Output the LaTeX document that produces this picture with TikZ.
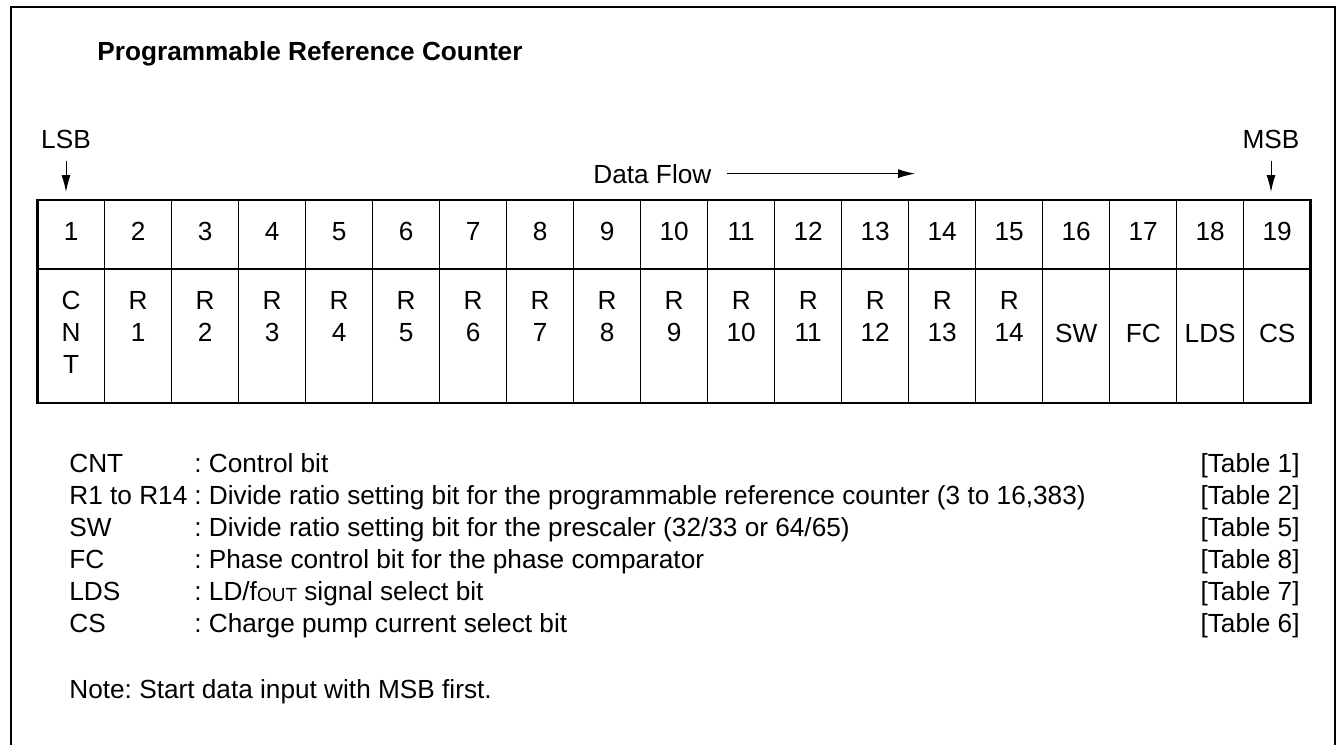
\documentclass[tikz,border=0pt]{standalone}
\usepackage{fontspec}
\setmainfont{Liberation Sans}
\usetikzlibrary{arrows.meta}
\frenchspacing

\tikzset{
  txt/.style={inner sep=0pt, anchor=base, font=\fontsize{13.1}{16}\selectfont},
  flow/.style={-{Latex[length=8.5pt,width=4.5pt]}, line width=0.5pt},
  thick box/.style={line width=1.35pt},
}

\begin{document}
\begin{tikzpicture}[x=0.5pt, y=-0.5pt]
	\useasboundingbox (0,0) rectangle (1338,744);
	\clip (0,0) rectangle (1338,744);
	% frame
	\draw [line width=1.1pt] (11,770) -- (11,7) -- (1335,7) -- (1335,770);
	\node [txt, anchor=base west, font=\fontsize{13.1}{16}\selectfont\bfseries] (title) at (97,60) {Programmable Reference Counter};
	% ends and direction
	\node [txt] (lsb) at (66,148) {LSB};
	\node [txt] (msb) at (1271,148) {MSB};
	\coordinate (lsbtip) at (66,192);
	\coordinate (msbtip) at (1271,192);
	\draw [flow] (lsb.south) ++(0,12) -- (lsbtip);
	\draw [flow] (msb.south) ++(0,12) -- (msbtip);
	\node [txt, anchor=base west] (dataflow) at (593,183) {Data Flow};
	\coordinate (flowend) at (915,174);
	\draw [flow, shorten <=7.5pt] (dataflow.east) -- (dataflow.east -| flowend);
	% bit table
	\foreach \i in {1,...,18}
		\draw [line width=0.5pt] ({37.7+67*\i},200) -- ({37.7+67*\i},403);
	\draw [thick box] (37.7,269) -- (1310.7,269);
	\draw [thick box] (37.7,200) rectangle (1310.7,403);
	\foreach \i in {1,...,19}
		\node [txt] (num\i) at ({4.2+67*\i},240) {\i};
	\node [txt, anchor=center, align=center] (bit1) at (71.2,332.6) {C\\N\\T};
	\foreach \i [evaluate=\i as \j using int(\i-1)] in {2,...,15}
		\node [txt, anchor=center, align=center] (bit\i) at ({4.2+67*\i},316.6) {R\\\j};
	\foreach \i/\lbl in {16/SW, 17/FC, 18/LDS, 19/CS}
		\node [txt] (bit\i) at ({4.2+67*\i},342) {\lbl};
	% legend
	\foreach \lbl/\desc/\tbl [count=\k] in {
		CNT/{: Control bit}/1,
		{R1 to R14}/{: Divide ratio setting bit for the programmable reference counter (3 to 16,383)}/2,
		SW/{: Divide ratio setting bit for the prescaler (32/33 or 64/65)}/5,
		FC/{: Phase control bit for the phase comparator}/8,
		LDS/{: LD/f\raisebox{-0.5pt}{\fontsize{9.5}{9.5}\selectfont OUT} signal select bit}/7,
		CS/{: Charge pump current select bit}/6}
	{
		\node [txt, anchor=base west] (key\k) at (69,{440+32*\k}) {\lbl};
		\node [txt, anchor=base west] (desc\k) at (194,{440+32*\k}) {\desc};
		\node [txt, anchor=base east] (tab\k) at (1300,{440+32*\k}) {[Table \tbl]};
	}
	\node [txt, anchor=base west] (note) at (69,698) {Note: Start data input with MSB first.};
\end{tikzpicture}
\end{document}
